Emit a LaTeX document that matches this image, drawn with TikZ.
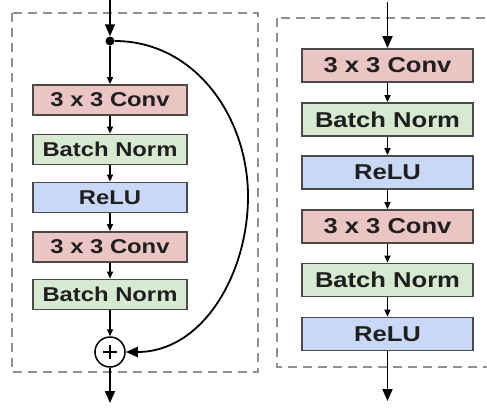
\documentclass[tikz,border=0pt]{standalone}
\usepackage{fontspec}
\newfontfamily\blockfont[FakeStretch=1.19]{Liberation Sans}
\usetikzlibrary{arrows.meta}
\definecolor{convred}{HTML}{EBC4C4}
\definecolor{bngreen}{HTML}{D8E9D1}
\definecolor{relublue}{HTML}{C8D8F6}
\definecolor{framegray}{HTML}{909090}
\definecolor{edgegray}{HTML}{4A4A4A}

\begin{document}
\begin{tikzpicture}[x=1pt,y=-1pt,
  block/.style={draw=edgegray,line width=1.8pt,inner sep=0pt,text=black!88,
    font=\blockfont\bfseries\fontsize{20}{20}\selectfont,minimum width=154pt,minimum height=30pt},
  wide/.style={minimum width=171pt,minimum height=33pt,
    font=\blockfont\bfseries\fontsize{21.5}{21.5}\selectfont},
  conv/.style={block,fill=convred},
  bn/.style={block,fill=bngreen},
  relu/.style={block,fill=relublue},
  flow/.style={-{Triangle[length=7pt,width=6pt]},line width=1.4pt},
  bigflow/.style={-{Triangle[length=12pt,width=10pt]},line width=1.8pt},
  frame/.style={draw=framegray,line width=1.9pt,dash pattern=on 9pt off 6pt}]
\useasboundingbox (0,0) rectangle (487,410);
\clip (0,0) rectangle (487,410);
\fill[white] (0,0) rectangle (487,410);

\draw[frame] (12,13) rectangle (258,372);
\draw[frame] (277,18) rectangle (497,367);

\node[circle,fill=black,inner sep=0pt,minimum size=9pt] (split) at (110,41) {};
\node[conv] (lconvA) at (110,100) {3 x 3 Conv};
\node[bn] (lbnA) at (110,149.5) {Batch Norm};
\node[relu] (lreluA) at (110,197.5) {ReLU};
\node[conv] (lconvB) at (110,247) {3 x 3 Conv};
\node[bn] (lbnB) at (110,294.5) {Batch Norm};
\node[circle,draw=black,line width=1.5pt,fill=white,inner sep=0pt,minimum size=30pt] (sum) at (110,352) {};
\draw[line width=1.7pt] ([xshift=-7pt]sum.center) -- ([xshift=7pt]sum.center)
  ([yshift=-7pt]sum.center) -- ([yshift=7pt]sum.center);
\coordinate (lin) at (110,0);
\coordinate (lout) at (110,403);
\coordinate (bend) at (248,196.5);

\draw[bigflow] (lin) -- (split);
\draw[flow] (split) -- (lconvA);
\draw[flow] (lconvA) -- (lbnA);
\draw[flow] (lbnA) -- (lreluA);
\draw[flow] (lreluA) -- (lconvB);
\draw[flow] (lconvB) -- (lbnB);
\draw[flow] (lbnB) -- (sum);
\draw[bigflow] (sum) -- (lout);
\draw[bigflow] (split) to[out=0,in=90] (bend) to[out=-90,in=0] (sum);

\node[conv,wide] (rconvA) at (387.5,65.5) {3 x 3 Conv};
\node[bn,wide] (rbnA) at (387.5,119.5) {Batch Norm};
\node[relu,wide] (rreluA) at (387.5,172.5) {ReLU};
\node[conv,wide] (rconvB) at (387.5,226.5) {3 x 3 Conv};
\node[bn,wide] (rbnB) at (387.5,280) {Batch Norm};
\node[relu,wide] (rreluB) at (387.5,334) {ReLU};
\coordinate (rin) at (387.5,2);
\coordinate (rout) at (387.5,401);

\draw[bigflow] (rin) -- (rconvA);
\draw[flow] (rconvA) -- (rbnA);
\draw[flow] (rbnA) -- (rreluA);
\draw[flow] (rreluA) -- (rconvB);
\draw[flow] (rconvB) -- (rbnB);
\draw[flow] (rbnB) -- (rreluB);
\draw[bigflow] (rreluB) -- (rout);
\end{tikzpicture}
\end{document}
